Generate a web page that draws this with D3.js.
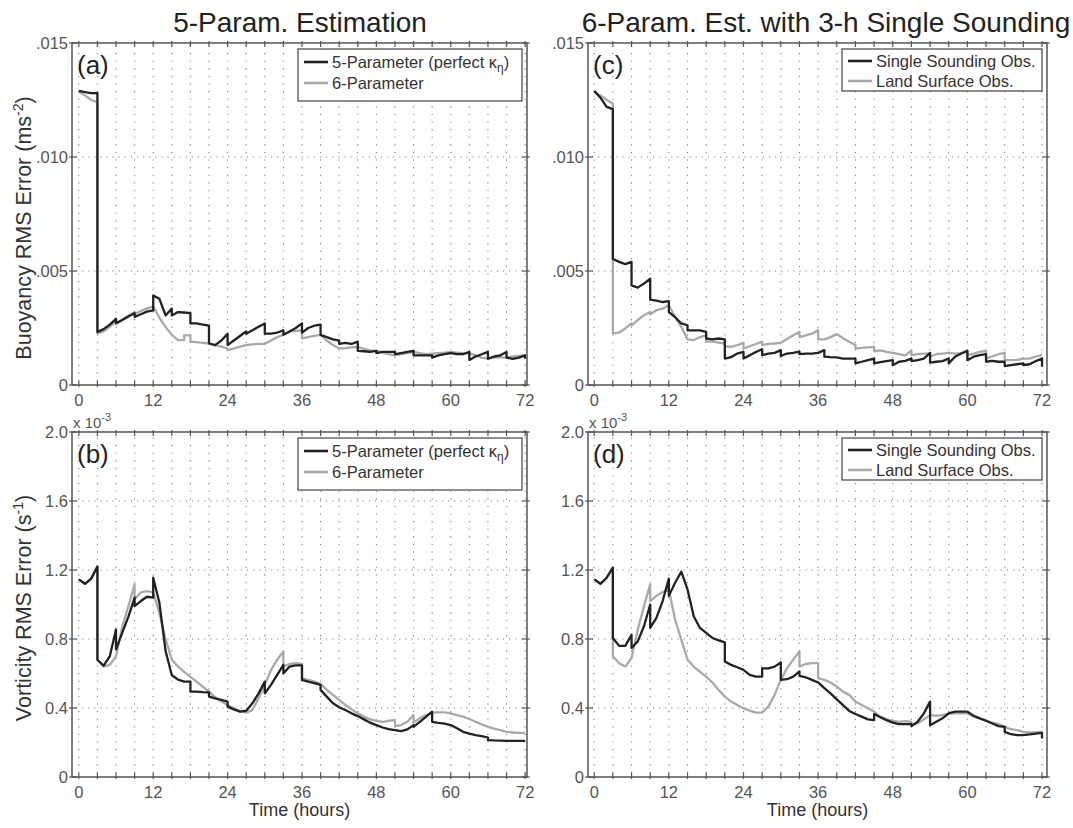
<!DOCTYPE html>
<html>
<head>
<meta charset="utf-8">
<script src="https://cdn.jsdelivr.net/npm/d3@7"></script>
<style>
  body { margin: 0; background: #fff; }
  text { font-family: "Liberation Sans", Arial, sans-serif; }
</style>
</head>
<body>
<div id="chart"></div>
<script>
// values in 1e-3 units (buoyancy: m s-2, vorticity: s-1), [hour, value]
var buoy5 = [[0,12.9],[1,12.85],[2,12.8],[3,12.8],[3,2.33],[4,2.45],[5,2.65],[6,2.9],[6,2.72],[7,2.85],[8,3.0],[9,3.15],
  [9,2.98],[10,3.1],[11,3.22],[12,3.27],[12,3.93],[13,3.78],[14,3.05],[15,3.35],[15,3.05],[16,3.2],[17,3.18],[18,3.15],
  [18,2.7],[19,2.7],[20,2.65],[21,2.6],[21,1.82],[22,1.75],[23,1.95],[24,2.25],[24,1.75],[25,1.95],[26,2.15],[27,2.35],
  [27,2.25],[28,2.4],[29,2.55],[30,2.7],[30,2.25],[31,2.25],[32,2.3],[33,2.4],[33,2.2],[34,2.35],[35,2.5],[36,2.7],
  [36,2.3],[37,2.5],[38,2.6],[39,2.65],[39,2.2],[40,2.1],[41,2.0],[42,1.95],[42,1.8],[43,1.85],[44,1.8],[45,1.9],
  [45,1.5],[46,1.48],[47,1.45],[48,1.5],[48,1.4],[49,1.45],[50,1.45],[51,1.45],[51,1.35],[52,1.4],[53,1.45],[54,1.5],
  [54,1.3],[55,1.3],[56,1.3],[57,1.3],[57,1.2],[58,1.3],[59,1.35],[60,1.4],[61,1.35],[62,1.35],[63,1.45],
  [63,1.1],[64,1.25],[65,1.35],[66,1.45],[66,1.15],[67,1.25],[68,1.3],[69,1.45],[69,1.2],[70,1.15],[71,1.2],[72,1.3],[72,1.15]];
var buoy6 = [[0,12.85],[1,12.7],[2,12.5],[3,12.4],[3,2.25],[4,2.35],[5,2.55],[6,2.8],[6,2.65],[7,2.85],[8,3.05],[9,3.2],
  [9,3.1],[10,3.25],[11,3.35],[12,3.45],[13,2.95],[14,2.55],[15,2.2],[16,1.97],[17,1.97],[17,2.18],[18,2.18],
  [18,1.9],[19,1.88],[20,1.85],[21,1.82],[22,1.75],[23,1.68],[24,1.6],[24,1.53],[25,1.6],[26,1.68],[27,1.75],
  [28,1.78],[29,1.8],[30,1.8],[31,1.95],[32,2.1],[33,2.2],[34,2.35],[35,2.38],[36,2.4],[36,2.05],[37,2.1],[38,2.15],[39,2.2],
  [40,1.95],[41,1.75],[42,1.6],[43,1.62],[44,1.65],[45,1.67],[46,1.58],[47,1.52],[48,1.5],[49,1.42],[50,1.35],[51,1.3],
  [52,1.35],[53,1.4],[54,1.45],[55,1.4],[56,1.35],[57,1.38],[58,1.4],[59,1.42],[60,1.45],[61,1.42],[62,1.4],[63,1.4],
  [64,1.3],[65,1.2],[66,1.16],[67,1.2],[68,1.22],[69,1.2],[70,1.25],[71,1.28],[72,1.31]];
var buoySound = [[0,12.9],[1,12.6],[2,12.2],[3,12.1],[3,5.53],[4,5.4],[5,5.3],[6,5.4],[6,4.37],[7,4.27],[8,4.45],[9,4.66],
  [9,3.74],[10,3.7],[11,3.64],[12,3.68],[12,3.2],[13,2.98],[14,2.7],[15,2.62],[15,2.4],[16,2.4],[17,2.4],[18,2.33],
  [18,2.04],[19,2.0],[20,2.04],[21,2.0],[21,1.16],[22,1.22],[23,1.38],[24,1.45],[24,1.16],[25,1.3],[26,1.45],[27,1.57],
  [27,1.31],[28,1.38],[29,1.41],[30,1.53],[30,1.27],[31,1.38],[32,1.41],[33,1.46],[33,1.35],[34,1.38],[35,1.38],[36,1.41],
  [37,1.53],[37,1.24],[38,1.22],[39,1.21],[40,1.16],[41,1.16],[42,1.16],[42,0.95],[43,1.02],[44,1.09],[45,1.16],
  [45,0.95],[46,1.0],[47,1.05],[48,1.09],[48,0.87],[49,1.02],[50,1.06],[51,1.16],[51,1.05],[52,1.09],[53,1.16],[54,1.41],
  [54,0.98],[55,1.02],[56,1.05],[57,1.16],[57,0.95],[58,1.24],[59,1.38],[60,1.5],[60,1.09],[61,1.24],[62,1.31],[63,1.35],
  [63,1.02],[64,1.06],[65,1.02],[66,1.02],[66,0.83],[67,0.87],[68,0.91],[69,0.95],[69,0.87],[70,0.91],[71,1.05],[72,1.16],[72,0.8]];
var buoyLand = [[0,12.85],[1,12.7],[2,12.5],[3,12.35],[3,2.26],[4,2.3],[5,2.48],[6,2.7],[6,2.62],[7,2.85],[8,3.06],[9,3.2],
  [9,3.1],[10,3.28],[11,3.35],[12,3.5],[13,2.98],[14,2.55],[15,2.0],[16,1.97],[17,2.1],[18,2.18],
  [18,1.9],[19,1.9],[20,1.86],[21,1.82],[21,1.7],[22,1.67],[23,1.75],[24,1.85],[24,1.6],[25,1.7],[26,1.8],[27,1.9],
  [27,1.75],[28,1.8],[29,1.82],[30,1.85],[31,2.02],[32,2.18],[33,2.33],[33,2.1],[34,2.18],[35,2.25],[36,2.4],
  [36,2.0],[37,2.0],[38,2.1],[39,2.23],[40,2.05],[41,1.9],[42,1.75],[42,1.6],[43,1.63],[44,1.65],[45,1.67],
  [45,1.48],[46,1.52],[47,1.45],[48,1.41],[49,1.35],[50,1.3],[51,1.5],[51,1.31],[52,1.35],[53,1.38],[54,1.38],
  [54,1.24],[55,1.35],[56,1.38],[57,1.41],[58,1.38],[59,1.4],[60,1.45],[60,1.31],[61,1.38],[62,1.45],[63,1.5],
  [63,1.16],[64,1.26],[65,1.35],[66,1.41],[66,1.09],[67,1.09],[68,1.1],[69,1.16],[70,1.16],[71,1.25],[72,1.31]];

var vort5 = [[0,1.146],[1,1.12],[2,1.15],[3,1.22],[3,0.68],[4,0.645],[5,0.7],[6,0.855],[6,0.74],[7,0.835],[8,0.93],[9,1.04],
  [9,0.99],[10,1.02],[11,1.045],[12,1.04],[12,1.155],[13,1.01],[14,0.73],[15,0.59],[16,0.565],[17,0.553],[18,0.553],
  [18,0.495],[19,0.495],[20,0.492],[21,0.49],[21,0.466],[22,0.456],[23,0.447],[24,0.437],[24,0.408],[25,0.392],[26,0.379],
  [27,0.384],[28,0.427],[29,0.485],[30,0.553],[30,0.485],[31,0.534],[32,0.592],[33,0.65],[33,0.6],[34,0.64],[35,0.647],[36,0.647],
  [36,0.563],[37,0.553],[38,0.544],[39,0.534],[39,0.505],[40,0.466],[41,0.427],[42,0.404],[43,0.388],[44,0.369],[45,0.353],
  [46,0.334],[47,0.315],[48,0.301],[49,0.287],[50,0.278],[51,0.272],[52,0.266],[53,0.276],[54,0.301],[54,0.291],
  [55,0.32],[56,0.349],[57,0.379],[57,0.32],[58,0.314],[59,0.31],[60,0.301],[61,0.282],[62,0.262],[63,0.252],
  [64,0.243],[65,0.237],[66,0.229],[66,0.214],[67,0.212],[68,0.211],[69,0.21],[70,0.21],[71,0.21],[72,0.21]];
var vort6 = [[0,1.146],[1,1.12],[2,1.15],[3,1.22],[3,0.68],[4,0.64],[5,0.65],[6,0.7],[7,0.87],[8,0.99],[9,1.117],
  [9,1.03],[10,1.07],[11,1.078],[12,1.07],[13,0.95],[14,0.8],[15,0.68],[16,0.64],[17,0.61],[18,0.58],[19,0.553],
  [20,0.524],[21,0.495],[22,0.462],[23,0.437],[24,0.417],[25,0.398],[26,0.383],[27,0.373],[28,0.388],[29,0.456],
  [30,0.534],[31,0.62],[32,0.68],[33,0.728],[33,0.64],[34,0.655],[35,0.66],[36,0.655],[36,0.573],[37,0.563],[38,0.553],
  [39,0.54],[40,0.505],[41,0.476],[42,0.447],[43,0.417],[44,0.392],[45,0.369],[46,0.35],[47,0.334],[48,0.326],
  [49,0.32],[50,0.326],[51,0.33],[51,0.295],[52,0.301],[53,0.32],[54,0.36],[54,0.315],[55,0.34],[56,0.359],[57,0.373],
  [58,0.375],[59,0.375],[60,0.369],[61,0.359],[62,0.35],[63,0.336],[64,0.32],[65,0.305],[66,0.291],[67,0.281],
  [68,0.272],[69,0.262],[70,0.258],[71,0.256],[72,0.256]];
var vortSound = [[0,1.146],[1,1.12],[2,1.155],[3,1.214],[3,0.806],[4,0.76],[5,0.76],[6,0.825],[6,0.748],[7,0.786],[8,0.874],[9,1.0],
  [9,0.864],[10,0.922],[11,1.02],[12,1.15],[12,1.05],[13,1.126],[14,1.19],[15,1.087],[16,0.932],[17,0.864],[18,0.835],
  [19,0.806],[20,0.792],[21,0.78],[21,0.67],[22,0.65],[23,0.636],[24,0.621],[25,0.592],[26,0.582],[27,0.582],[27,0.63],
  [28,0.63],[29,0.64],[30,0.664],[30,0.563],[31,0.567],[32,0.582],[33,0.612],[33,0.586],[34,0.578],[35,0.563],[36,0.548],
  [37,0.515],[38,0.485],[39,0.45],[40,0.417],[41,0.383],[42,0.365],[43,0.35],[44,0.334],[45,0.33],[45,0.365],[46,0.346],
  [47,0.33],[48,0.315],[49,0.307],[50,0.307],[51,0.307],[51,0.295],[52,0.32],[53,0.369],[54,0.437],[54,0.3],
  [55,0.32],[56,0.34],[57,0.369],[58,0.379],[59,0.379],[60,0.379],[61,0.355],[62,0.34],[63,0.326],[64,0.31],
  [65,0.295],[66,0.291],[66,0.262],[67,0.248],[68,0.243],[69,0.243],[70,0.247],[71,0.252],[72,0.256],[72,0.223]];
var vortLand = [[0,1.146],[1,1.12],[2,1.155],[3,1.214],[3,0.7],[4,0.66],[5,0.64],[6,0.69],[7,0.854],[8,0.99],[9,1.117],
  [9,1.02],[10,1.05],[11,1.072],[12,1.087],[13,0.913],[14,0.796],[15,0.68],[16,0.64],[17,0.61],[18,0.582],[19,0.548],
  [20,0.505],[21,0.466],[22,0.437],[23,0.417],[24,0.398],[25,0.385],[26,0.373],[27,0.375],[28,0.408],[29,0.476],
  [30,0.563],[31,0.63],[32,0.68],[33,0.728],[33,0.64],[34,0.655],[35,0.66],[36,0.66],[36,0.573],[37,0.563],[38,0.548],
  [39,0.524],[40,0.495],[41,0.476],[42,0.437],[43,0.417],[44,0.398],[45,0.379],[46,0.35],[47,0.334],[48,0.326],
  [49,0.32],[50,0.324],[51,0.32],[51,0.301],[52,0.311],[53,0.334],[54,0.359],[55,0.355],[56,0.359],[57,0.369],
  [58,0.369],[59,0.369],[60,0.369],[61,0.35],[62,0.34],[63,0.326],[64,0.315],[65,0.307],[66,0.291],[67,0.277],
  [68,0.272],[69,0.262],[70,0.258],[71,0.258],[72,0.262]];

var titles = ["5-Param. Estimation", "6-Param. Est. with 3-h Single Sounding"];
var xTicks = [0, 12, 24, 36, 48, 60, 72];
var buoyTicks = [0, 5, 10, 15];
var buoyTickLabels = ["0", ".005", ".010", ".015"];
var vortTicks = [0, 0.4, 0.8, 1.2, 1.6, 2.0];
var vortTickLabels = ["0", "0.4", "0.8", "1.2", "1.6", "2.0"];
var legendA = ["5-Parameter (perfect \u03ba", "6-Parameter"];
var legendC = ["Single Sounding Obs.", "Land Surface Obs."];

var svgW = 1073, svgH = 828;
var svg = d3.select("#chart").append("svg")
            .attr("width", svgW)
            .attr("height", svgH);

var cols = [{x0: 72, x1: 527, dom: [-1.1, 72.3], tx: 300}, {x0: 588, x1: 1047, dom: [-1, 72.8], tx: 826}];
var rows = [{y0: 43, y1: 385, dom: [0, 15], ticks: buoyTicks, labels: buoyTickLabels},
            {y0: 432, y1: 777, dom: [0, 2], ticks: vortTicks, labels: vortTickLabels}];

var panels = [
  {c: 0, r: 0, tag: "(a)", black: buoy5, gray: buoy6, leg: legendA, kappa: true},
  {c: 1, r: 0, tag: "(c)", black: buoySound, gray: buoyLand, leg: legendC, kappa: false},
  {c: 0, r: 1, tag: "(b)", black: vort5, gray: vort6, leg: legendA, kappa: true},
  {c: 1, r: 1, tag: "(d)", black: vortSound, gray: vortLand, leg: legendC, kappa: false}
];

var darkC = "#222", grayC = "#a9a9a9", frameC = "#555";

// titles
titles.forEach(function(t, i) {
  svg.append("text")
     .attr("x", cols[i].tx).attr("y", 32)
     .attr("text-anchor", "middle")
     .attr("font-size", 28).attr("fill", "#222")
     .text(t);
});

panels.forEach(function(p) {
  var col = cols[p.c], row = rows[p.r];
  var xScale = d3.scaleLinear().domain(col.dom).range([col.x0, col.x1]);
  var yScale = d3.scaleLinear().domain(row.dom).range([row.y1, row.y0]);
  var g = svg.append("g");

  // dotted grid: vertical every 3 h, horizontal at major ticks
  var minorX = d3.range(0, 73, 3);
  g.selectAll(".vg").data(minorX).enter().append("line")
   .attr("x1", d => xScale(d)).attr("x2", d => xScale(d))
   .attr("y1", row.y1 - 4).attr("y2", row.y0 + 4)
   .attr("stroke", "#777").attr("stroke-width", 1.1)
   .attr("stroke-dasharray", "1.1,6.5");
  g.selectAll(".hg").data(row.ticks.slice(1, -1)).enter().append("line")
   .attr("x1", col.x0 + 4).attr("x2", col.x1 - 4)
   .attr("y1", d => yScale(d)).attr("y2", d => yScale(d))
   .attr("stroke", "#777").attr("stroke-width", 1.1)
   .attr("stroke-dasharray", "1.1,5");

  // lines
  var line = d3.line().x(d => xScale(d[0])).y(d => yScale(d[1]));
  g.append("path").datum(p.gray).attr("d", line)
   .attr("fill", "none").attr("stroke", grayC).attr("stroke-width", 2.3)
   .attr("stroke-linejoin", "round");
  g.append("path").datum(p.black).attr("d", line)
   .attr("fill", "none").attr("stroke", darkC).attr("stroke-width", 2.3)
   .attr("stroke-linejoin", "round");

  // frame
  g.append("rect")
   .attr("x", col.x0).attr("y", row.y0)
   .attr("width", col.x1 - col.x0).attr("height", row.y1 - row.y0)
   .attr("fill", "none").attr("stroke", frameC).attr("stroke-width", 1.5);

  // x ticks top and bottom
  g.selectAll(".xt").data(minorX).enter().append("line")
   .attr("x1", d => xScale(d)).attr("x2", d => xScale(d))
   .attr("y1", row.y1 + 2).attr("y2", row.y1 - 4)
   .attr("stroke", frameC).attr("stroke-width", 1.2);
  g.selectAll(".xt2").data(minorX).enter().append("line")
   .attr("x1", d => xScale(d)).attr("x2", d => xScale(d))
   .attr("y1", row.y0 - 2).attr("y2", row.y0 + 4)
   .attr("stroke", frameC).attr("stroke-width", 1.2);
  g.selectAll(".xl").data(xTicks).enter().append("text")
   .attr("x", d => xScale(d)).attr("y", row.y1 + 21)
   .attr("text-anchor", "middle").attr("font-size", 16.5).attr("fill", "#555")
   .text(d => d);

  // y ticks left and right
  g.selectAll(".yt").data(row.ticks).enter().append("line")
   .attr("x1", col.x0 - 3).attr("x2", col.x0 + 5)
   .attr("y1", d => yScale(d)).attr("y2", d => yScale(d))
   .attr("stroke", frameC).attr("stroke-width", 1.2);
  g.selectAll(".yt2").data(row.ticks).enter().append("line")
   .attr("x1", col.x1 - 5).attr("x2", col.x1 + 3)
   .attr("y1", d => yScale(d)).attr("y2", d => yScale(d))
   .attr("stroke", frameC).attr("stroke-width", 1.2);
  g.selectAll(".yl").data(row.ticks).enter().append("text")
   .attr("x", col.x0 - 4).attr("y", d => yScale(d) + 6)
   .attr("text-anchor", "end").attr("font-size", 16.5).attr("fill", "#555")
   .text((d, i) => row.labels[i]);

  if (p.r === 1) {
    var ex = g.append("text").attr("x", col.x0 + 1).attr("y", row.y0 - 4)
              .attr("font-size", 15).attr("fill", "#555");
    ex.append("tspan").text("x 10");
    ex.append("tspan").attr("dy", -7).attr("font-size", 11).text("-3");
  }

  // panel tag
  g.append("text").attr("x", col.x0 + 5).attr("y", row.y0 + 31)
   .attr("font-family", "'Open Sans', sans-serif")
   .attr("font-size", 26).attr("fill", "#222")
   .text(p.tag);

  // legend
  var lw = p.kappa ? 224 : 200;
  var lh = p.kappa ? 52 : 42;
  var lx = col.x1 - 5 - lw, ly = row.y0 + 6;
  var leg = g.append("g").attr("transform", `translate(${lx},${ly})`);
  leg.append("rect").attr("width", lw).attr("height", lh)
     .attr("fill", "#fff").attr("stroke", "#444").attr("stroke-width", 1.2);
  var rowY = p.kappa ? [13, 34] : [12, 32];
  [darkC, grayC].forEach(function(c, i) {
    leg.append("line").attr("x1", 6).attr("x2", 30)
       .attr("y1", rowY[i]).attr("y2", rowY[i])
       .attr("stroke", c).attr("stroke-width", 2.6);
    var t = leg.append("text").attr("x", 34).attr("y", rowY[i] + 6)
       .attr("font-family", "'Open Sans', sans-serif")
       .attr("font-size", 16.5).attr("fill", "#333")
       .text(p.leg[i]);
    if (p.kappa && i === 0) {
      t.append("tspan").attr("dy", 4).attr("font-size", 12).text("\u03b7");
      t.append("tspan").attr("dy", -4).text(")");
    }
  });
});

// y axis titles
var yTitles = [{y: 228, main: "Buoyancy RMS Error (ms", sup: "-2"}, {y: 608, main: "Vorticity RMS Error (s", sup: "-1"}];
yTitles.forEach(function(d) {
  var t = svg.append("text")
     .attr("transform", `translate(31,${d.y}) rotate(-90)`)
     .attr("text-anchor", "middle")
     .attr("font-size", 21.5).attr("fill", "#333");
  t.append("tspan").text(d.main);
  t.append("tspan").attr("dy", -8).attr("font-size", 14).text(d.sup);
  t.append("tspan").attr("dy", 8).text(")");
});

// x axis titles
cols.forEach(function(col) {
  svg.append("text")
     .attr("x", (col.x0 + col.x1) / 2).attr("y", 816)
     .attr("text-anchor", "middle")
     .attr("font-size", 18).attr("fill", "#333")
     .text("Time (hours)");
});
</script>
</body>
</html>
